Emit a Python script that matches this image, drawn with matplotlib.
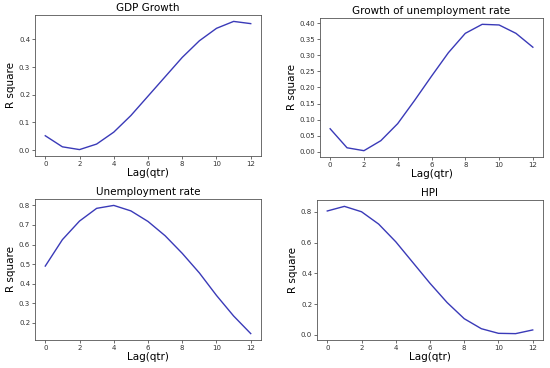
import matplotlib.pyplot as plt

lags = list(range(13))

gdp_growth = [0.052, 0.012, 0.002, 0.022, 0.065, 0.125, 0.195, 0.265, 0.335,
              0.395, 0.440, 0.465, 0.457]
unemp_growth = [0.072, 0.013, 0.004, 0.035, 0.088, 0.160, 0.235, 0.308, 0.368,
                0.396, 0.394, 0.368, 0.325]
unemp_rate = [0.490, 0.625, 0.720, 0.785, 0.800, 0.772, 0.718, 0.645, 0.555,
              0.455, 0.340, 0.235, 0.145]
hpi = [0.805, 0.835, 0.800, 0.720, 0.605, 0.470, 0.335, 0.210, 0.105,
       0.040, 0.010, 0.008, 0.032]

titles = ["GDP Growth", "Growth of unemployment rate", "Unemployment rate", "HPI"]
series = [gdp_growth, unemp_growth, unemp_rate, hpi]

W, H = 550, 368
# axes boxes in pixels: left, top, right, bottom
boxes = [(35, 15, 261, 156), (320, 18, 543, 157),
         (35, 199, 261, 340), (317, 200, 543, 340)]

fig = plt.figure(figsize=(W / 100, H / 100), dpi=100)

for (l, t, r, b), title, ys in zip(boxes, titles, series):
    ax = fig.add_axes([l / W, 1 - b / H, (r - l) / W, (b - t) / H])
    ax.plot(lags, ys, color="#3a3ab8", lw=1.0)
    ax.set_title(title, fontsize=7.5, pad=3)
    ax.set_xlabel("Lag(qtr)", fontsize=7.5, labelpad=1)
    ax.set_ylabel("R square", fontsize=7.5, labelpad=2)
    ax.set_xticks(range(0, 13, 2))
    ax.tick_params(labelsize=5, length=2, width=0.5, pad=1.5, colors="#333333")
    for s in ax.spines.values():
        s.set_linewidth(0.6)
        s.set_color("#555555")

ax_list = fig.axes
ax_list[1].set_yticks([0, 0.05, 0.10, 0.15, 0.20, 0.25, 0.30, 0.35, 0.40])
ax_list[1].set_yticklabels(["0.00", "0.05", "0.10", "0.15", "0.20", "0.25",
                            "0.30", "0.35", "0.40"])
ax_list[3].set_yticks([0, 0.2, 0.4, 0.6, 0.8])

plt.savefig("out.png", dpi=100)
